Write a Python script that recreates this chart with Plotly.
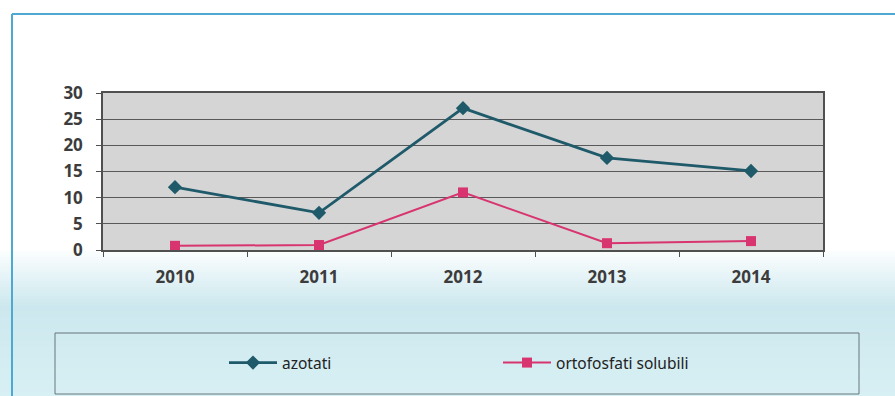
import plotly.graph_objects as go

# Annual concentrations
years = ["2010", "2011", "2012", "2013", "2014"]
azotati = [12.0, 7.1, 27.1, 17.6, 15.1]
ortofosfati = [0.8, 0.95, 11.0, 1.3, 1.7]
series_names = ["azotati", "ortofosfati solubili"]
y_ticks = [0, 5, 10, 15, 20, 25, 30]

W, H = 895, 396
M_L, M_R, M_T, M_B = 103, 72, 93, 146
PW, PH = W - M_L - M_R, H - M_T - M_B


def px_x(px):
    return (px - M_L) / PW


def px_y(py):
    return (H - M_B - py) / PH


def mix(c1, c2, t):
    return "rgb({},{},{})".format(*[round(a + (b - a) * t) for a, b in zip(c1, c2)])


shapes = []
# soft blue wash across the lower part of the card, below the plot area
stops = [(251, (250, 253, 254)), (305, (204, 232, 238)), (396, (216, 240, 244))]
band = 3
for py in range(251, H, band):
    col = mix(stops[-1][1], stops[-1][1], 0)
    for (a, ca), (b, cb) in zip(stops, stops[1:]):
        if a <= py < b:
            col = mix(ca, cb, (py - a) / (b - a))
            break
    shapes.append(dict(type="rect", xref="paper", yref="paper", layer="below",
                       x0=px_x(0), x1=px_x(W), y0=px_y(py + band + 0.5), y1=px_y(py),
                       fillcolor=col, line=dict(width=0)))

# card frame (left and top edges)
frame = "#4ea9d2"
shapes.append(dict(type="line", xref="paper", yref="paper", x0=px_x(12), x1=px_x(12),
                   y0=px_y(H + 2), y1=px_y(14), line=dict(color=frame, width=2)))
shapes.append(dict(type="line", xref="paper", yref="paper", x0=px_x(12), x1=px_x(W + 2),
                   y0=px_y(14), y1=px_y(14), line=dict(color=frame, width=2)))
# legend box
shapes.append(dict(type="rect", xref="paper", yref="paper", x0=px_x(55), x1=px_x(859),
                   y0=px_y(394), y1=px_y(333), line=dict(color="#66777d", width=1)))

fig = go.Figure()
fig.add_trace(go.Scatter(
    x=years, y=azotati, name=series_names[0], mode="lines+markers",
    line=dict(color="#1f5a6b", width=2.8),
    marker=dict(symbol="diamond", size=11, color="#1f5a6b"),
))
fig.add_trace(go.Scatter(
    x=years, y=ortofosfati, name=series_names[1], mode="lines+markers",
    line=dict(color="#d8346f", width=2),
    marker=dict(symbol="square", size=10, color="#d8346f"),
))

tick_font = dict(size=17, family="Noto Sans, sans-serif", weight="bold", color="#3c3c3c")

fig.update_layout(
    width=W, height=H,
    margin=dict(l=M_L, r=M_R, t=M_T, b=M_B, pad=0),
    paper_bgcolor="white",
    plot_bgcolor="#d5d5d5",
    shapes=shapes,
    font=dict(family="Noto Sans, sans-serif", color="#3c3c3c"),
    showlegend=True,
    legend=dict(
        orientation="h", x=px_x(224), y=px_y(363), xanchor="left", yanchor="middle",
        bgcolor="rgba(0,0,0,0)", font=dict(size=15.5, color="#222222"),
        entrywidth=211, entrywidthmode="pixels", itemwidth=48,
    ),
    xaxis=dict(
        type="category", range=[-0.5, 4.5], showgrid=False,
        showline=True, linecolor="#505050", linewidth=1.5, mirror=True,
        ticks="outside", ticklen=5, tickcolor="#505050", tickson="boundaries",
        tickfont=tick_font, ticklabelstandoff=11,
    ),
    yaxis=dict(
        range=[0, 30], tickvals=y_ticks, showgrid=True, gridcolor="#595959", gridwidth=1,
        showline=True, linecolor="#505050", linewidth=1.5, mirror=True,
        ticks="outside", ticklen=5, tickcolor="#505050", zeroline=False,
        tickfont=tick_font, ticklabelstandoff=10,
    ),
)

fig.write_html("out.html")
